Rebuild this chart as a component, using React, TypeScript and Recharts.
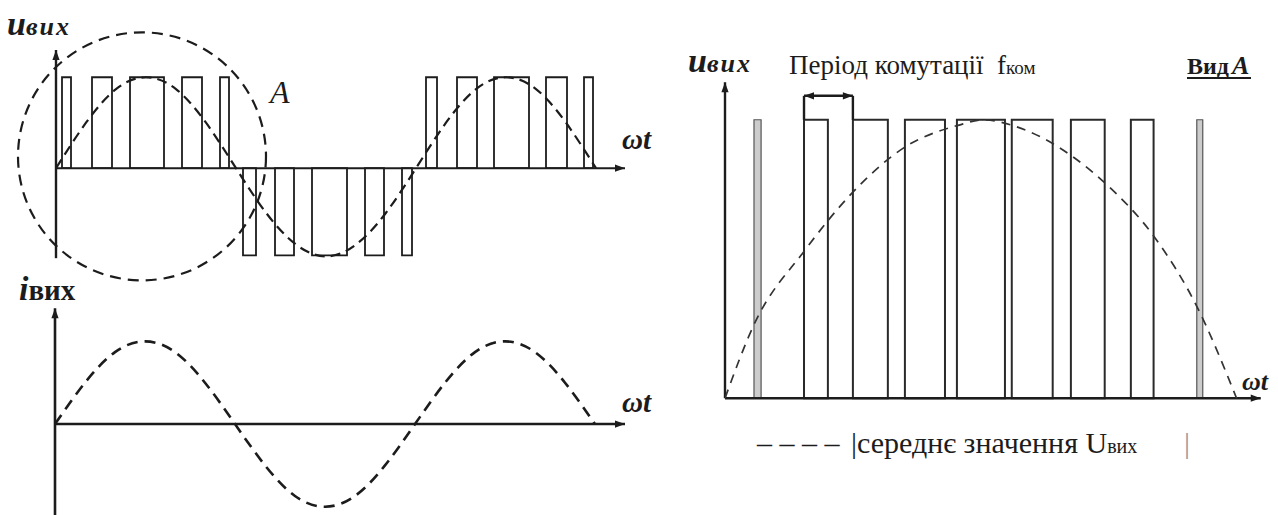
import React from 'react';
import {
  ComposedChart,
  Line,
  XAxis,
  YAxis,
  ReferenceArea,
  ReferenceLine,
  ReferenceDot,
} from 'recharts';

const INK = '#1c1c1c';
const SERIF = "'Liberation Serif'";

// ---- Output voltage u_вих over 1.5 periods (angle, degrees; level, p.u.)
const pwmStart = [6, 36, 74, 126, 164, 187, 219, 256, 309, 346, 370, 401, 438, 490, 528];
const pwmEnd = [15, 56, 108, 146, 173, 200, 238, 291, 328, 356, 381, 421, 473, 511, 537];
const pwmLevel = [1, 1, 1, 1, 1, -0.96, -0.96, -0.96, -0.96, -0.96, 1, 1, 1, 1, 1];

// fundamental of the voltage (dashed)
const fundAngle = [0, 30, 60, 90, 120, 150, 180, 210, 240, 270, 300, 330, 360, 390, 420, 450, 480, 510, 540];
const fundLevel = [0, 0.5, 0.87, 1, 0.87, 0.5, 0, -0.49, -0.84, -0.97, -0.84, -0.49, 0, 0.5, 0.87, 1, 0.87, 0.5, 0];

// ---- Output current i_вих
const curAngle = [0, 30, 60, 90, 120, 150, 180, 210, 240, 270, 300, 330, 360, 390, 420, 450, 480, 510, 540];
const curLevel = [0, 0.5, 0.87, 1, 0.87, 0.5, 0, -0.5, -0.87, -1, -0.87, -0.5, 0, 0.5, 0.87, 1, 0.87, 0.5, 0];

// ---- Вид A: one positive half-wave, enlarged
const viewStart = [10.2, 27.8, 45.0, 63.3, 81.6, 100.9, 121.7, 142.8, 166.0];
const viewEnd = [12.7, 36.2, 57.3, 77.4, 98.5, 115.3, 133.6, 150.8, 168.1];
const meanAngle = [0, 10, 28, 45, 63, 82, 91, 101, 122, 134, 151, 166, 180];
const meanLevel = [0, 0.26, 0.53, 0.74, 0.9, 0.98, 1, 0.98, 0.87, 0.77, 0.58, 0.33, 0];

const fundData = fundAngle.map((a, i) => ({ a, v: fundLevel[i] }));
const curData = curAngle.map((a, i) => ({ a, v: curLevel[i] }));
const meanData = meanAngle.map((a, i) => ({ a, v: meanLevel[i] }));

// line with a filled arrowhead at the end (or at both ends)
const arrowShape = (both: boolean, width: number) => (p: any) => {
  const { x1, y1, x2, y2 } = p;
  const dx = x2 - x1;
  const dy = y2 - y1;
  const len = Math.hypot(dx, dy) || 1;
  const ux = dx / len;
  const uy = dy / len;
  const L = 10;
  const W = 3.6;
  const head = (x: number, y: number, sx: number, sy: number) =>
    `${x},${y} ${x - sx * L - sy * W},${y - sy * L + sx * W} ${x - sx * L + sy * W},${y - sy * L - sx * W}`;
  return (
    <g>
      <line x1={x1} y1={y1} x2={x2} y2={y2} stroke={INK} strokeWidth={width} />
      <polygon points={head(x2, y2, ux, uy)} fill={INK} />
      {both && <polygon points={head(x1, y1, -ux, -uy)} fill={INK} />}
    </g>
  );
};

const plainShape = (width: number) => (p: any) => (
  <line x1={p.x1} y1={p.y1} x2={p.x2} y2={p.y2} stroke={INK} strokeWidth={width} />
);

function VoltageChart() {
  return (
    <ComposedChart
      width={640}
      height={300}
      data={fundData}
      margin={{ left: 56, right: 14, top: 30, bottom: 10 }}
    >
      <XAxis type="number" dataKey="a" domain={[0, 570]} allowDataOverflow hide />
      <YAxis type="number" domain={[-1.34, 1.52]} allowDataOverflow hide />
      {pwmStart.map((s, i) => (
        <ReferenceArea
          key={`p${i}`}
          x1={s}
          x2={pwmEnd[i]}
          y1={0}
          y2={pwmLevel[i]}
          fill="none"
          stroke={INK}
          strokeWidth={1.8}
          ifOverflow="visible"
        />
      ))}
      <ReferenceLine
        segment={[{ x: 0, y: 0 }, { x: 569, y: 0 }]}
        shape={arrowShape(false, 2)}
        ifOverflow="visible"
      />
      <ReferenceLine
        segment={[{ x: 0, y: -0.99 }, { x: 0, y: 1.3 }]}
        shape={arrowShape(false, 2.4)}
        ifOverflow="visible"
      />
      <ReferenceDot
        x={86}
        y={0.13}
        r={124}
        fill="none"
        stroke={INK}
        strokeWidth={2.2}
        strokeDasharray="11 7"
        ifOverflow="visible"
      />
      <Line
        type="natural"
        dataKey="v"
        stroke={INK}
        strokeWidth={2.2}
        strokeDasharray="10 6"
        dot={false}
        isAnimationActive={false}
      />
    </ComposedChart>
  );
}

function CurrentChart() {
  return (
    <ComposedChart
      width={640}
      height={215}
      data={curData}
      margin={{ left: 55, right: 15, top: 0, bottom: 0 }}
    >
      <XAxis type="number" dataKey="a" domain={[0, 570]} allowDataOverflow hide />
      <YAxis type="number" domain={[-1.1, 1.5]} allowDataOverflow hide />
      <ReferenceLine
        segment={[{ x: 0, y: 0 }, { x: 570, y: 0 }]}
        shape={arrowShape(false, 2.6)}
        ifOverflow="visible"
      />
      <ReferenceLine
        segment={[{ x: 0, y: -1.1 }, { x: 0, y: 1.4 }]}
        shape={arrowShape(false, 2.6)}
        ifOverflow="visible"
      />
      <Line
        type="natural"
        dataKey="v"
        stroke={INK}
        strokeWidth={2.6}
        strokeDasharray="11 7"
        dot={false}
        isAnimationActive={false}
      />
    </ComposedChart>
  );
}

function ViewAChart() {
  return (
    <ComposedChart
      width={578}
      height={360}
      data={meanData}
      margin={{ left: 25, right: 13, top: 18, bottom: 19 }}
    >
      <XAxis type="number" dataKey="a" domain={[0, 190]} allowDataOverflow hide />
      <YAxis type="number" domain={[-0.01, 1.15]} allowDataOverflow hide />
      {viewStart.map((s, i) => {
        const narrow = viewEnd[i] - s < 4;
        return (
          <ReferenceArea
            key={`v${i}`}
            x1={s}
            x2={viewEnd[i]}
            y1={0}
            y2={1}
            fill={narrow ? '#9a9a9a' : 'none'}
            stroke={narrow ? '#555' : '#2a2a2a'}
            strokeWidth={narrow ? 1.2 : 2}
            ifOverflow="visible"
          />
        );
      })}
      {/* switching-period bracket */}
      <ReferenceLine
        segment={[{ x: viewStart[1], y: 1 }, { x: viewStart[1], y: 1.086 }]}
        shape={plainShape(2.4)}
        ifOverflow="visible"
      />
      <ReferenceLine
        segment={[{ x: viewStart[2], y: 1 }, { x: viewStart[2], y: 1.086 }]}
        shape={plainShape(2.4)}
        ifOverflow="visible"
      />
      <ReferenceLine
        segment={[{ x: viewStart[1], y: 1.086 }, { x: viewStart[2], y: 1.086 }]}
        shape={arrowShape(true, 2.4)}
        ifOverflow="visible"
      />
      <ReferenceLine
        segment={[{ x: 0, y: 0 }, { x: 188.5, y: 0 }]}
        shape={arrowShape(false, 2.4)}
        ifOverflow="visible"
      />
      <ReferenceLine
        segment={[{ x: 0, y: 0 }, { x: 0, y: 1.135 }]}
        shape={arrowShape(false, 2.4)}
        ifOverflow="visible"
      />
      <Line
        type="monotone"
        dataKey="v"
        stroke="#333"
        strokeWidth={1.7}
        strokeDasharray="9 7"
        dot={false}
        isAnimationActive={false}
      />
    </ComposedChart>
  );
}

function Labels() {
  const t = { fontFamily: SERIF, fill: INK } as const;
  return (
    <svg
      width={1278}
      height={515}
      style={{ position: 'absolute', left: 0, top: 0, pointerEvents: 'none' }}
    >
      {/* top-left */}
      <text x={7} y={35} {...t}>
        <tspan fontSize={34} fontWeight="bold" fontStyle="italic">u</tspan>
        <tspan fontSize={26} fontWeight="bold" fontStyle="italic" letterSpacing={2}>вих</tspan>
      </text>
      <text x={270} y={103} {...t} fontSize={32} fontStyle="italic">A</text>
      <text x={622} y={149} {...t} fontSize={29} fontStyle="italic" fontWeight="bold">ωt</text>

      {/* bottom-left */}
      <text x={19} y={300} {...t}>
        <tspan fontSize={34} fontWeight="bold" fontStyle="italic">i</tspan>
        <tspan fontSize={29} fontWeight="bold">вих</tspan>
      </text>
      <text x={622} y={412} {...t} fontSize={29} fontStyle="italic" fontWeight="bold">ωt</text>

      {/* Вид A */}
      <text x={688} y={72} {...t}>
        <tspan fontSize={34} fontWeight="bold" fontStyle="italic">u</tspan>
        <tspan fontSize={26} fontWeight="bold" fontStyle="italic" letterSpacing={2}>вих</tspan>
      </text>
      <text x={789} y={74} {...t} fontSize={27}>
        Період комутації{'\u00A0\u00A0'}f<tspan fontSize={19}>ком</tspan>
      </text>
      <text x={1187} y={74} {...t}>
        <tspan fontSize={24} fontWeight="bold">Вид</tspan>
        <tspan fontSize={26} fontWeight="bold" fontStyle="italic" dx={3}>A</tspan>
      </text>
      <line x1={1187} y1={78} x2={1251} y2={78} stroke={INK} strokeWidth={1.8} />
      <text x={1242} y={390} {...t} fontSize={26} fontStyle="italic" fontWeight="bold">ωt</text>

      <text x={757} y={453} {...t} fontSize={30}>– – – –</text>
      <text x={851} y={453} {...t} fontSize={30}>
        |середнє значення U<tspan fontSize={20}>вих</tspan>
      </text>
      <text x={1184} y={453} fontFamily={SERIF} fill="#9a9a9a" fontSize={30}>|</text>
    </svg>
  );
}

export default function App() {
  return (
    <div
      style={{
        position: 'absolute',
        left: 0,
        top: 0,
        width: 1278,
        height: 515,
        background: '#fff',
        overflow: 'hidden',
      }}
    >
      <div style={{ position: 'absolute', left: 0, top: 0 }}>
        <VoltageChart />
      </div>
      <div style={{ position: 'absolute', left: 0, top: 300 }}>
        <CurrentChart />
      </div>
      <div style={{ position: 'absolute', left: 700, top: 60 }}>
        <ViewAChart />
      </div>
      <Labels />
    </div>
  );
}
